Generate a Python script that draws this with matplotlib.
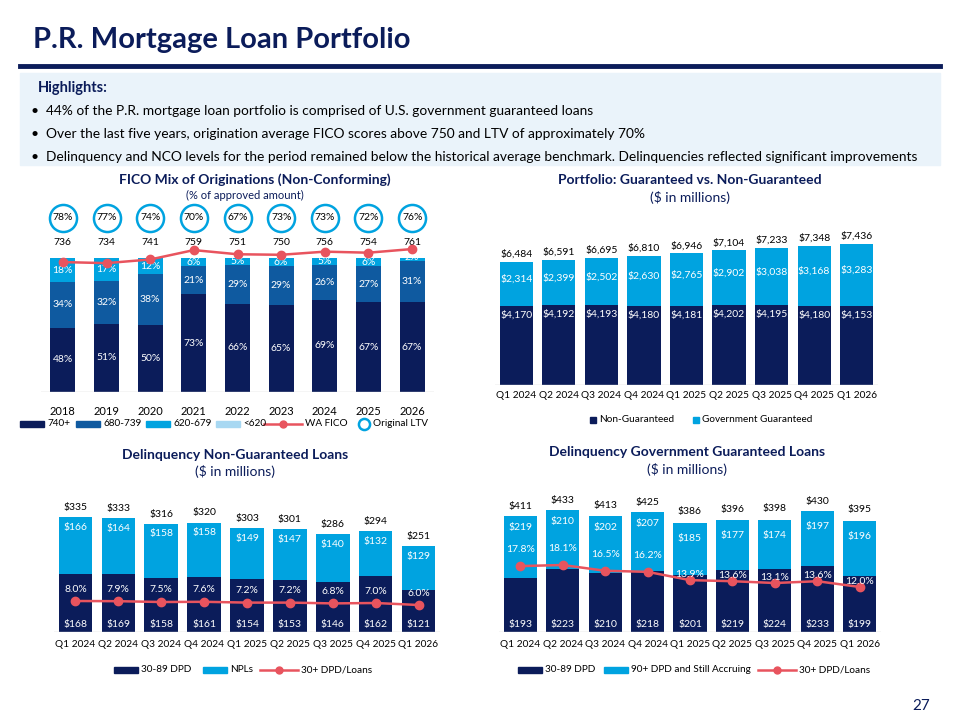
import matplotlib.pyplot as plt
from matplotlib.patches import Rectangle
from matplotlib.lines import Line2D
import numpy as np

plt.rcParams['font.family'] = ['Lato', 'DejaVu Sans']

NAVY = '#0b1c5a'
MID = '#0f5aa0'
LIGHT = '#00a3e0'
PALE = '#a8d8f2'
RED = '#e8545e'

# FICO mix
years = ['2018', '2019', '2020', '2021', '2022', '2023', '2024', '2025', '2026']
fico740 = [48, 51, 50, 73, 66, 65, 69, 67, 67]
fico680 = [34, 32, 38, 21, 29, 29, 26, 27, 31]
fico620 = [18, 17, 12, 6, 5, 6, 5, 6, 2]
fico_lt620 = [0, 0, 0, 0, 0, 0, 0, 0, 0]
wa_fico = [736, 734, 741, 759, 751, 750, 756, 754, 761]
orig_ltv = [78, 77, 74, 70, 67, 73, 73, 72, 76]

quarters = ['Q1 2024', 'Q2 2024', 'Q3 2024', 'Q4 2024', 'Q1 2025', 'Q2 2025',
            'Q3 2025', 'Q4 2025', 'Q1 2026']
# Portfolio
non_guar = [4170, 4192, 4193, 4180, 4181, 4202, 4195, 4180, 4153]
gov_guar = [2314, 2399, 2502, 2630, 2765, 2902, 3038, 3168, 3283]
port_total = [6484, 6591, 6695, 6810, 6946, 7104, 7233, 7348, 7436]
# Delinquency non-guaranteed
ng_3089 = [168, 169, 158, 161, 154, 153, 146, 162, 121]
ng_npl = [166, 164, 158, 158, 149, 147, 140, 132, 129]
ng_total = [335, 333, 316, 320, 303, 301, 286, 294, 251]
ng_rate = [8.0, 7.9, 7.5, 7.6, 7.2, 7.2, 6.8, 7.0, 6.0]
# Delinquency government guaranteed
gg_3089 = [193, 223, 210, 218, 201, 219, 224, 233, 199]
gg_90 = [219, 210, 202, 207, 185, 177, 174, 197, 196]
gg_total = [411, 433, 413, 425, 386, 396, 398, 430, 395]
gg_rate = [17.8, 18.1, 16.5, 16.2, 13.9, 13.6, 13.1, 13.6, 12.0]

W, H = 960, 720
fig = plt.figure(figsize=(9.6, 7.2), dpi=100)


def ax_at(x0, y0, x1, y1):
    a = fig.add_axes([x0 / W, 1 - y1 / H, (x1 - x0) / W, (y1 - y0) / H])
    a.set_facecolor('none')
    for s in a.spines.values():
        s.set_visible(False)
    a.set_yticks([])
    return a


def ftext(x, y, s, **kw):
    fig.text(x / W, 1 - y / H, s, **kw)


def leg_patch(x, y, c, lab, w=24):
    fig.add_artist(Rectangle((x / W, 1 - (y + 3) / H), w / W, 6 / H, color=c, transform=fig.transFigure))
    ftext(x + w + 3, y, lab, fontsize=7.2, va='center')


def leg_line(x, y, lab):
    fig.add_artist(Line2D([x / W, (x + 38) / W], [1 - y / H] * 2, color=RED, lw=1.8, transform=fig.transFigure))
    fig.add_artist(Line2D([(x + 19) / W], [1 - y / H], color=RED, marker='o', ms=5, transform=fig.transFigure))
    ftext(x + 41, y, lab, fontsize=7.2, va='center')


# header
ftext(33, 40, 'P.R. Mortgage Loan Portfolio', fontsize=21, fontweight='bold', color=NAVY, va='center')
fig.add_artist(Line2D([20 / W, 940 / W], [1 - 66 / H] * 2, color=NAVY, lw=3.5))
fig.add_artist(Rectangle((20 / W, 1 - 165 / H), 920 / W, 92 / H, color='#eaf3fa', transform=fig.transFigure))
ftext(38, 88, 'Highlights:', fontsize=10.5, fontweight='bold', color=NAVY, va='center')
hl = ['44% of the P.R. mortgage loan portfolio is comprised of U.S. government guaranteed loans',
      'Over the last five years, origination average FICO scores above 750 and LTV of approximately 70%',
      'Delinquency and NCO levels for the period remained below the historical average benchmark. Delinquencies reflected significant improvements']
for i, s in enumerate(hl):
    ftext(30, 111 + i * 23, '\u2022', fontsize=10, color='black', va='center')
    ftext(46, 111 + i * 23, s, fontsize=9.9, color='black', va='center')

x = np.arange(9)

# ---- FICO chart
ftext(255, 180, 'FICO Mix of Originations (Non-Conforming)', fontsize=10, fontweight='bold', color=NAVY, ha='center', va='center')
ftext(245, 195, '(% of approved amount)', fontsize=8, color=NAVY, ha='center', va='center')
a = ax_at(41, 200, 434, 392)
top_pct = (392 - 200) / (392 - 258) * 100
a.set_ylim(0, top_pct)
a.set_xlim(-0.5, 8.5)
bot = np.zeros(9)
for vals, c in [(fico740, NAVY), (fico680, MID), (fico620, LIGHT), (fico_lt620, PALE)]:
    a.bar(x, vals, 0.58, bottom=bot, color=c)
    for i, v in enumerate(vals):
        if v > 0:
            a.text(x[i], bot[i] + v / 2 if v > 3 else bot[i] + v, f'{v}%', ha='center', va='center', color='white', fontsize=7.5)
    bot += np.array(vals)
for i, v in enumerate(orig_ltv):
    a.scatter(x[i], top_pct * (392 - 218) / 192, s=380, facecolor='white', edgecolor=LIGHT, linewidth=1.8, zorder=5, clip_on=False)
    a.text(x[i], top_pct * (392 - 218) / 192, f'{v}%', ha='center', va='center', fontsize=7.5, zorder=6)
a.set_xticks(x)
a.set_xticklabels(years, fontsize=8)
a.tick_params(length=0, pad=10)
a.axhline(0, color='#d0d0d0', lw=1)
t = a.twinx()
t.set_ylim(487, 855)
t.set_yticks([])
for s in t.spines.values():
    s.set_visible(False)
t.plot(x, wa_fico, color=RED, marker='o', ms=6, lw=1.8)
for i, v in enumerate(wa_fico):
    a.text(x[i], top_pct * (392 - 243) / 192, str(v), ha='center', va='center', fontsize=7.5)
leg_y = 424
leg_patch(20, leg_y, NAVY, '740+')
leg_patch(76, leg_y, MID, '680-739')
leg_patch(146, leg_y, LIGHT, '620-679')
leg_patch(216, leg_y, PALE, '<620')
leg_line(264, leg_y, 'WA FICO')
fig.add_artist(Line2D([364 / W], [1 - leg_y / H], color=LIGHT, marker='o', ms=8, mfc='white', mew=1.8, transform=fig.transFigure))
ftext(373, leg_y, 'Original LTV', fontsize=7.2, va='center')

# ---- Portfolio chart
ftext(690, 180, 'Portfolio: Guaranteed vs. Non-Guaranteed', fontsize=10, fontweight='bold', color=NAVY, ha='center', va='center')
ftext(690, 198, '($ in millions)', fontsize=10, color=NAVY, ha='center', va='center')
a = ax_at(495, 220, 878, 385)
a.set_ylim(0, 8700)
a.set_xlim(-0.5, 8.5)
a.bar(x, non_guar, 0.78, color=NAVY)
a.bar(x, gov_guar, 0.78, bottom=non_guar, color=LIGHT)
for i in range(9):
    a.text(x[i], non_guar[i] - 220, f'${non_guar[i]:,}', ha='center', va='top', color='white', fontsize=7.5)
    a.text(x[i], non_guar[i] + gov_guar[i] / 2 + 250, f'${gov_guar[i]:,}', ha='center', va='center', color='white', fontsize=7.5)
    a.text(x[i], port_total[i] + 150, f'${port_total[i]:,}', ha='center', va='bottom', fontsize=7.5)
a.set_xticks(x)
a.set_xticklabels(quarters, fontsize=7.3)
a.tick_params(length=0, pad=4)
a.axhline(0, color='#d0d0d0', lw=1)
leg_y = 420
leg_patch(590, leg_y, NAVY, 'Non-Guaranteed', w=6)
leg_patch(693, leg_y, LIGHT, 'Government Guaranteed', w=6)

# ---- Delinquency non-guaranteed
ftext(235, 455, 'Delinquency Non-Guaranteed Loans', fontsize=10, fontweight='bold', color=NAVY, ha='center', va='center')
ftext(235, 472, '($ in millions)', fontsize=10, color=NAVY, ha='center', va='center')
a = ax_at(54, 480, 440, 632)
a.set_ylim(0, 443)
a.set_xlim(-0.5, 8.5)
a.bar(x, ng_3089, 0.78, color=NAVY)
a.bar(x, ng_npl, 0.78, bottom=ng_3089, color=LIGHT)
for i in range(9):
    a.text(x[i], 22, f'${ng_3089[i]}', ha='center', va='center', color='white', fontsize=7.5)
    a.text(x[i], ng_3089[i] + ng_npl[i] - 30, f'${ng_npl[i]}', ha='center', va='center', color='white', fontsize=7.5)
    a.text(x[i], ng_total[i] + 14, f'${ng_total[i]}', ha='center', va='bottom', fontsize=7.5)
a.set_xticks(x)
a.set_xticklabels(quarters, fontsize=7.3)
a.tick_params(length=0, pad=6)
a.axhline(0, color='#d0d0d0', lw=1)
t = a.twinx()
t.set_ylim(-7.5, 68.5)
t.set_yticks([])
for s in t.spines.values():
    s.set_visible(False)
t.plot(x, ng_rate, color=RED, marker='o', ms=6, lw=1.8)
for i, v in enumerate(ng_rate):
    t.text(x[i], v + 6, f'{v:.1f}%', ha='center', va='center', color='white', fontsize=7.5)
leg_y = 670
leg_patch(114, leg_y, NAVY, '30-89 DPD')
leg_patch(203, leg_y, LIGHT, 'NPLs')
leg_line(260, leg_y, '30+ DPD/Loans')

# ---- Delinquency government guaranteed
ftext(687, 452, 'Delinquency Government Guaranteed Loans', fontsize=10, fontweight='bold', color=NAVY, ha='center', va='center')
ftext(687, 470, '($ in millions)', fontsize=10, color=NAVY, ha='center', va='center')
a = ax_at(499, 480, 881, 632)
a.set_ylim(0, 539)
a.set_xlim(-0.5, 8.5)
a.bar(x, gg_3089, 0.78, color=NAVY)
a.bar(x, gg_90, 0.78, bottom=gg_3089, color=LIGHT)
for i in range(9):
    a.text(x[i], 27, f'${gg_3089[i]}', ha='center', va='center', color='white', fontsize=7.5)
    a.text(x[i], gg_3089[i] + gg_90[i] - 40 - (i >= 4) * 15, f'${gg_90[i]}', ha='center', va='center', color='white', fontsize=7.5)
    a.text(x[i], gg_total[i] + 18 + (i >= 4 and i != 7) * 6, f'${gg_total[i]}', ha='center', va='bottom', fontsize=7.5)
a.set_xticks(x)
a.set_xticklabels(quarters, fontsize=7.3)
a.tick_params(length=0, pad=6)
a.axhline(0, color='#d0d0d0', lw=1)
t = a.twinx()
t.set_ylim(-0.5, 41.7)
t.set_yticks([])
for s in t.spines.values():
    s.set_visible(False)
t.plot(x, gg_rate, color=RED, marker='o', ms=6, lw=1.8)
for i, v in enumerate(gg_rate):
    t.text(x[i], v + (4.5 if i < 4 else 1.5), f'{v:.1f}%', ha='center', va='center', color='white', fontsize=7.5)
leg_y = 670
leg_patch(518, leg_y, NAVY, '30-89 DPD')
leg_patch(604, leg_y, LIGHT, '90+ DPD and Still Accruing')
leg_line(758, leg_y, '30+ DPD/Loans')

ftext(912, 706, '27', fontsize=11, color=NAVY, va='center')

fig.savefig('out.png', dpi=100)
